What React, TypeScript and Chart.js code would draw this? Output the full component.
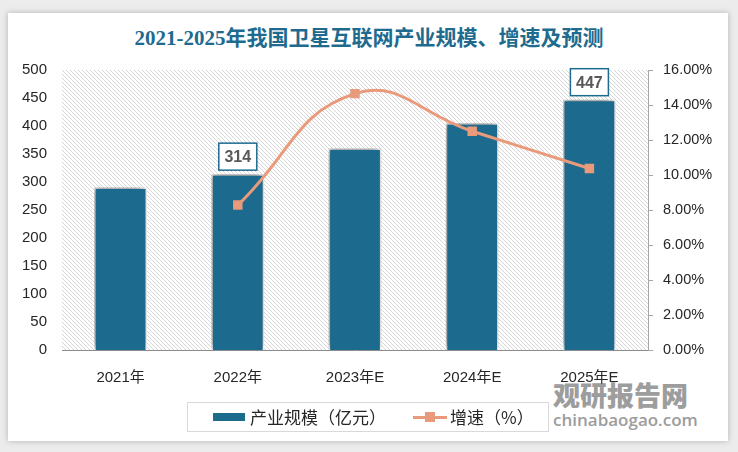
import React, { useEffect, useRef } from "react";
import { Chart, registerables } from "chart.js";

Chart.register(...registerables);

const titleText = "2021-2025年我国卫星互联网产业规模、增速及预测";
const categories = ["2021年", "2022年", "2023年E", "2024年E", "2025年E"];
const scaleValues = [290, 314, 360, 405, 447];
const growthValues: (number | null)[] = [null, 8.28, 14.65, 12.5, 10.37];
const labeledIndexes = [1, 4];
const barLegend = "产业规模（亿元）";
const lineLegend = "增速（%）";
const watermarkCn = "观研报告网";
const watermarkEn = "chinabaogao.com";

const BAR_COLOR = "#1c6a8e";
const LINE_COLOR = "#e99a7a";
const SANS = "'Liberation Sans', 'Noto Sans CJK SC', sans-serif";

export default function App() {
  const ref = useRef<HTMLCanvasElement | null>(null);

  useEffect(() => {
    document.body.style.margin = "0";
    const canvas = ref.current;
    if (!canvas) return;

    const pc = document.createElement("canvas");
    pc.width = 4;
    pc.height = 4;
    const pctx = pc.getContext("2d")!;
    pctx.fillStyle = "#d6d6d6";
    for (let i = 0; i < 4; i++) pctx.fillRect(i, i, 1, 1);
    const ctx0 = canvas.getContext("2d")!;
    const pattern = ctx0.createPattern(pc, "repeat");

    const hatchPlugin = {
      id: "hatch",
      beforeDatasetsDraw(chart: any) {
        const { ctx, chartArea } = chart;
        ctx.save();
        ctx.fillStyle = pattern as any;
        ctx.fillRect(chartArea.left, chartArea.top, chartArea.right - chartArea.left, chartArea.bottom - chartArea.top);
        ctx.restore();
      },
    };

    const shadowPlugin = {
      id: "barShadow",
      beforeDatasetDraw(chart: any, args: any) {
        if (args.index !== 0) return;
        const ctx = chart.ctx;
        ctx.save();
        ctx.shadowColor = "rgba(0,0,0,0.5)";
        ctx.shadowBlur = 8;
        ctx.shadowOffsetX = -2;
        ctx.shadowOffsetY = -2;
      },
      afterDatasetDraw(chart: any, args: any) {
        if (args.index !== 0) return;
        chart.ctx.restore();
      },
    };

    const labelPlugin = {
      id: "barLabels",
      afterDatasetsDraw(chart: any) {
        const ctx = chart.ctx;
        const meta = chart.getDatasetMeta(0);
        ctx.save();
        labeledIndexes.forEach((i) => {
          const el = meta.data[i];
          const w = 38;
          const h = 27;
          const x = el.x - w / 2;
          const y = el.y - 4 - h;
          ctx.fillStyle = "#ffffff";
          ctx.fillRect(x, y, w, h);
          ctx.strokeStyle = "#1f6b8e";
          ctx.lineWidth = 1.5;
          ctx.strokeRect(x, y, w, h);
          ctx.fillStyle = "#595959";
          ctx.font = "bold 16px " + SANS;
          ctx.textAlign = "center";
          ctx.textBaseline = "middle";
          ctx.fillText(String(scaleValues[i]), el.x, y + h / 2 + 1);
        });
        ctx.restore();
      },
    };

    const chart = new Chart(canvas, {
      type: "bar",
      data: {
        labels: categories,
        datasets: [
          {
            type: "bar",
            label: barLegend,
            data: scaleValues,
            backgroundColor: BAR_COLOR,
            borderColor: "#ffffff",
            borderWidth: 1.5,
            categoryPercentage: 1,
            barPercentage: 0.45,
            yAxisID: "y",
            order: 1,
          },
          {
            type: "line",
            label: lineLegend,
            data: growthValues,
            borderColor: LINE_COLOR,
            backgroundColor: LINE_COLOR,
            borderWidth: 3,
            tension: 0.45,
            pointStyle: "rect",
            pointRadius: 6.7,
            pointBorderWidth: 0,
            yAxisID: "y1",
            order: 0,
          } as any,
        ],
      },
      options: {
        responsive: false,
        animation: false,
        devicePixelRatio: 1,
        layout: { padding: { top: 70, left: 0, right: 0, bottom: 0 } },
        plugins: {
          legend: { display: false },
          tooltip: { enabled: false },
          title: { display: false },
        },
        scales: {
          x: {
            grid: { display: false, drawTicks: false },
            border: { display: true, color: "#8c8c8c", width: 1 },
            ticks: { color: "#262626", font: { size: 15, family: SANS }, padding: 19 },
            afterFit(s: any) {
              s.height = 102;
            },
          },
          y: {
            position: "left",
            min: 0,
            max: 500,
            grid: { display: false, drawTicks: false },
            border: { display: false },
            ticks: { stepSize: 50, color: "#262626", font: { size: 15, family: SANS }, padding: 15 },
            afterFit(s: any) {
              s.width = 62;
            },
          },
          y1: {
            position: "right",
            min: 0,
            max: 16,
            grid: { display: true, drawOnChartArea: false, drawTicks: true, tickLength: 5, color: "#a6a6a6" },
            border: { display: true, color: "#a6a6a6" },
            ticks: {
              stepSize: 2,
              color: "#262626",
              font: { size: 14.5, family: SANS },
              padding: 10,
              callback: (v: any) => Number(v).toFixed(2) + "%",
            },
            afterFit(s: any) {
              s.width = 90;
            },
          },
        },
      },
      plugins: [hatchPlugin, shadowPlugin, labelPlugin],
    } as any);

    return () => chart.destroy();
  }, []);

  return (
    <div style={{ position: "relative", width: 738, height: 452, background: "#ececec", overflow: "hidden" }}>
      <div
        style={{
          position: "absolute",
          left: 8,
          top: 13,
          width: 720,
          height: 428,
          background: "#ffffff",
          boxShadow: "0 0 6px rgba(0,0,0,0.25)",
        }}
      />
      <div
        style={{
          position: "absolute",
          left: 0,
          width: 738,
          top: 24,
          textAlign: "center",
          color: "#1e6b8f",
          fontWeight: "bold",
          fontSize: 21,
          lineHeight: "28px",
          fontFamily: "'Liberation Serif', 'Noto Sans CJK SC', serif",
        }}
      >
        {titleText}
      </div>
      <div
        style={{
          position: "absolute",
          left: 553,
          top: 378,
          color: "#8c8c8c",
          fontFamily: "'Noto Sans CJK SC', sans-serif",
          fontWeight: 900,
          fontSize: 27,
          lineHeight: "34px",
          opacity: 0.85,
        }}
      >
        {watermarkCn}
      </div>
      <div
        style={{
          position: "absolute",
          left: 553,
          top: 410,
          color: "#8c8c8c",
          fontFamily: "'Open Sans', sans-serif",
          fontWeight: 600,
          fontSize: 17,
          lineHeight: "20px",
          opacity: 0.85,
        }}
      >
        {watermarkEn}
      </div>
      <canvas ref={ref} width={738} height={452} style={{ position: "absolute", left: 0, top: 0, width: 738, height: 452 }} />
      <div
        style={{
          position: "absolute",
          left: 187,
          top: 402,
          width: 362,
          height: 30,
          border: "1px solid #d9d9d9",
          boxSizing: "border-box",
          fontFamily: "'Noto Sans CJK SC', sans-serif",
          fontSize: 17,
          color: "#262626",
          ...({ textSpacingTrim: "space-all" } as any),
        }}
      >
        <div style={{ position: "absolute", left: 25, top: 10, width: 32, height: 8, background: BAR_COLOR }} />
        <div style={{ position: "absolute", left: 62, top: 1, lineHeight: "26px", whiteSpace: "nowrap" }}>{barLegend}</div>
        <div style={{ position: "absolute", left: 225, top: 13, width: 34, height: 3, background: LINE_COLOR }} />
        <div style={{ position: "absolute", left: 237, top: 9, width: 10, height: 10, background: LINE_COLOR }} />
        <div style={{ position: "absolute", left: 262, top: 1, lineHeight: "26px", whiteSpace: "nowrap" }}>{lineLegend}</div>
      </div>
    </div>
  );
}
